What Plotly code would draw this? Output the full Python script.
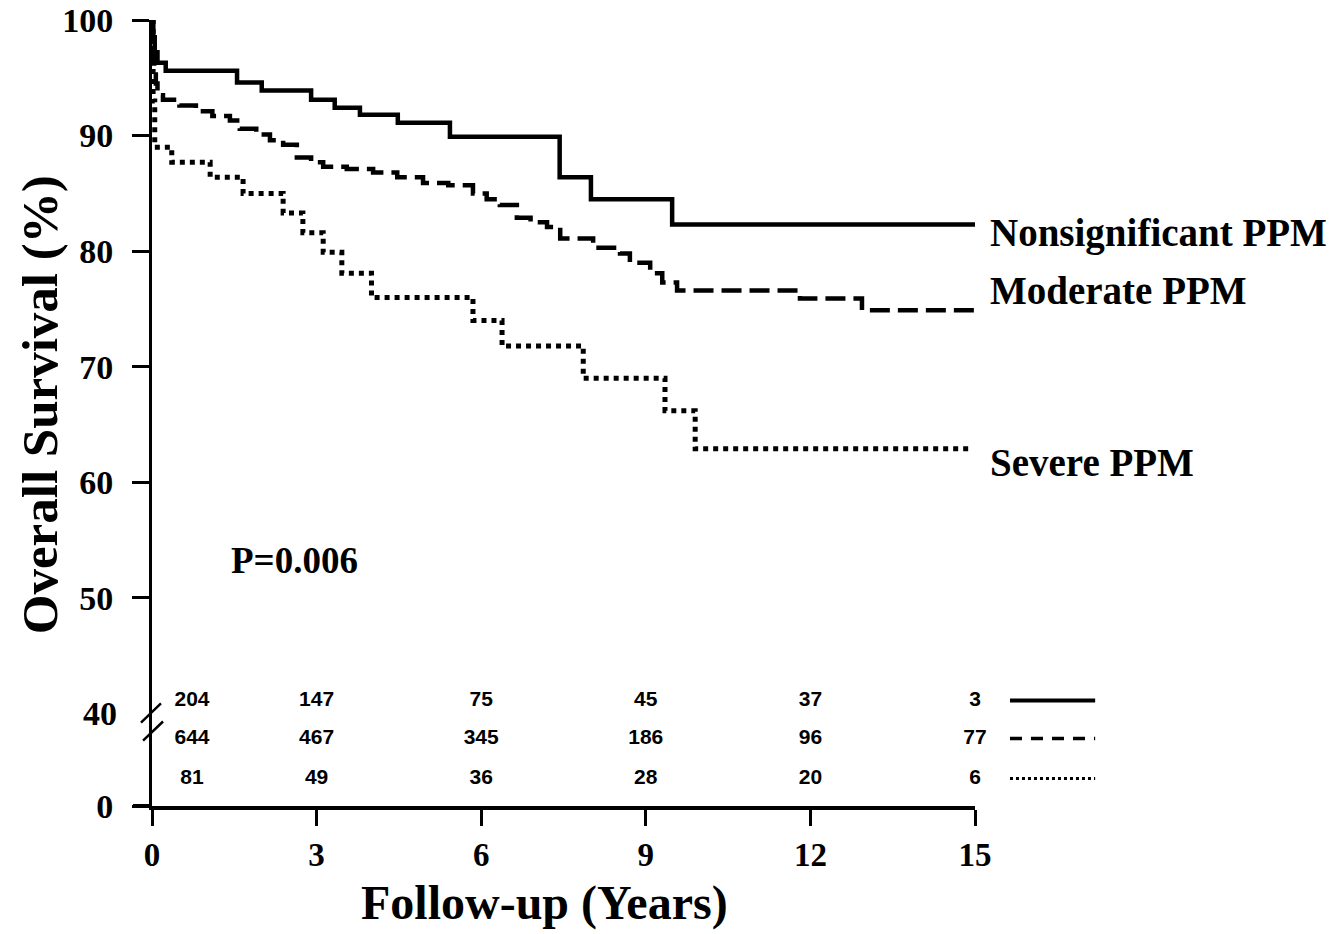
import plotly.graph_objects as go

# ---- data ----
t_nonsig = [0, 0.02, 0.05, 0.1, 0.25, 1.55, 2.0, 2.9, 3.33, 3.79, 4.48, 5.43, 7.43, 8.0, 9.48, 15]
s_nonsig = [100, 98.5, 97.2, 96.3, 95.6, 94.6, 93.9, 93.1, 92.4, 91.8, 91.1, 89.9, 86.4, 84.5, 82.3, 82.3]

t_mod = [0, 0.02, 0.04, 0.07, 0.1, 0.2, 0.5, 0.8, 1.1, 1.42, 1.6, 1.9, 2.15, 2.39, 2.64, 2.9,
         3.12, 3.55, 4.03, 4.47, 4.94, 5.4, 5.85, 6.1, 6.34, 6.65, 6.9, 7.2, 7.44, 8.04, 8.53,
         8.71, 9.08, 9.3, 9.57, 11.81, 12.94, 15]
s_mod = [100, 98, 96, 94.5, 93.5, 93.1, 92.6, 92.1, 91.7, 91.3, 90.6, 90.1, 89.6, 89.2, 88.1, 87.7,
         87.3, 87.1, 86.8, 86.4, 85.9, 85.7, 85.0, 84.5, 84.0, 82.9, 82.5, 82.1, 81.1, 80.3, 79.8,
         79.0, 78.1, 77.3, 76.6, 75.9, 74.9, 74.9]

t_sev = [0, 0.02, 0.05, 0.36, 1.06, 1.66, 2.39, 2.75, 3.12, 3.46, 4.0, 5.85, 6.38, 7.86, 9.35, 9.9, 14.95]
s_sev = [100, 93, 89.0, 87.7, 86.4, 85.0, 83.3, 81.6, 79.9, 78.1, 76.0, 74.0, 71.8, 69.0, 66.2, 62.9, 62.9]

group_labels = ["Nonsignificant PPM", "Moderate PPM", "Severe PPM"]
label_y = [81.6, 76.6, 61.7]

risk_times = [0.73, 3, 6, 9, 12, 15]
risk_nonsig = [204, 147, 75, 45, 37, 3]
risk_mod = [644, 467, 345, 186, 96, 77]
risk_sev = [81, 49, 36, 28, 20, 6]
risk_row_y = [41.13, 37.84, 34.37]

x_ticks = [0, 3, 6, 9, 12, 15]
y_tickvals = [32, 50, 60, 70, 80, 90, 100]
y_ticktext = ["0", "50", "60", "70", "80", "90", "100"]
p_text = "P=0.006"

SERIF = "Liberation Serif"
fig = go.Figure()

fig.add_trace(go.Scatter(x=t_nonsig, y=s_nonsig, mode="lines", line_shape="hv",
                         line=dict(color="black", width=4.5), showlegend=False))
fig.add_trace(go.Scatter(x=t_mod, y=s_mod, mode="lines", line_shape="hv",
                         line=dict(color="black", width=4.5, dash="20px,8px"), showlegend=False))
fig.add_trace(go.Scatter(x=t_sev, y=s_sev, mode="lines", line_shape="hv",
                         line=dict(color="black", width=5, dash="5px,5px"), showlegend=False))

# numbers at risk
for row, yv in zip([risk_nonsig, risk_mod, risk_sev], risk_row_y):
    fig.add_trace(go.Scatter(x=risk_times, y=[yv] * len(risk_times), mode="text",
                             text=[str(v) for v in row], cliponaxis=False,
                             textfont=dict(family="Liberation Sans", size=21, color="black", weight="bold"),
                             showlegend=False, hoverinfo="skip"))

# legend lines for the at-risk rows
dashes = ["solid", "12px,9px", "3px,3px"]
widths = [4, 3.5, 3]
for yv, d, w in zip(risk_row_y, dashes, widths):
    fig.add_shape(type="line", xref="paper", yref="y", x0=1.0425, x1=1.146, y0=yv, y1=yv,
                  line=dict(color="black", width=w, dash=d))

# curve labels
for txt, yv in zip(group_labels, label_y):
    fig.add_annotation(xref="paper", yref="y", x=1.016, y=yv, text=txt, showarrow=False,
                       xanchor="left", yanchor="middle",
                       font=dict(family=SERIF, size=39, color="black", weight="bold"))

# P value
fig.add_annotation(xref="x", yref="y", x=2.6, y=53.25, text=p_text, showarrow=False,
                   xanchor="center", yanchor="middle",
                   font=dict(family=SERIF, size=37, color="black", weight="bold"))

# "40" label at the axis break
fig.add_annotation(xref="paper", yref="y", x=0, y=40, text="40", showarrow=False,
                   xanchor="right", yanchor="middle", xshift=-33,
                   font=dict(family=SERIF, size=34, color="black", weight="bold"))

# axis break marks
fig.add_shape(type="line", xref="paper", yref="y", x0=-0.0134, x1=0.0109, y0=39.22, y1=40.87,
              line=dict(color="black", width=2.5))
fig.add_shape(type="line", xref="paper", yref="y", x0=-0.0109, x1=0.0134, y0=37.66, y1=39.31,
              line=dict(color="black", width=2.5))
# x-axis line extension to the left of the y axis
fig.add_shape(type="line", xref="paper", yref="paper", x0=-0.0231, x1=0, y0=0, y1=0,
              line=dict(color="black", width=4))

# axis titles
fig.add_annotation(xref="paper", yref="paper", x=0.4775, y=-0.124, text="Follow-up (Years)",
                   showarrow=False, xanchor="center", yanchor="middle",
                   font=dict(family=SERIF, size=48, color="black", weight="bold"))
fig.add_annotation(xref="paper", yref="paper", x=-0.136, y=0.51, text="Overall Survival (%)",
                   showarrow=False, xanchor="center", yanchor="middle", textangle=-90,
                   font=dict(family=SERIF, size=51, color="black", weight="bold"))

fig.update_layout(
    width=1334, height=934,
    margin=dict(l=152, r=359, t=20, b=128, autoexpand=False),
    paper_bgcolor="white", plot_bgcolor="white",
    xaxis=dict(range=[0, 15], tickvals=x_ticks, ticks="outside", ticklen=16, tickwidth=3,
               tickcolor="black", showline=True, linecolor="black", linewidth=4,
               showgrid=False, zeroline=False, ticklabelstandoff=0,
               tickfont=dict(family=SERIF, size=33, color="black", weight="bold")),
    yaxis=dict(range=[32, 100], tickvals=y_tickvals, ticktext=y_ticktext, ticks="outside",
               ticklen=17, tickwidth=3, tickcolor="black", showline=True, linecolor="black",
               linewidth=3, showgrid=False, zeroline=False, ticklabelstandoff=12,
               tickfont=dict(family=SERIF, size=34, color="black", weight="bold")),
)

fig.write_html("out.html")
